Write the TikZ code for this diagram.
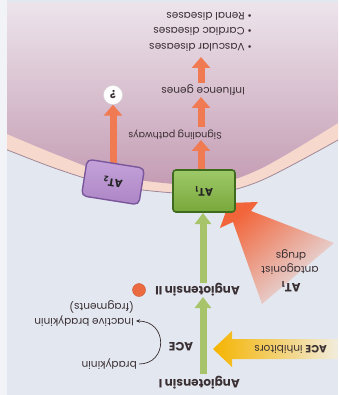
\documentclass[tikz,border=0pt]{standalone}
\usepackage{graphicx}
\usepackage{fontspec}
\setmainfont{Poppins}
\usetikzlibrary{arrows.meta}
\definecolor{bgc}{HTML}{E3E8F0}
\definecolor{stripc}{HTML}{F1F3F7}
\definecolor{rimc}{HTML}{F6D8CC}
\definecolor{rimline}{HTML}{A08898}
\definecolor{cellt}{HTML}{EDE5EC}
\definecolor{cellb}{HTML}{C39AB2}
\definecolor{orc}{HTML}{F07A52}
\definecolor{grc}{HTML}{A8C46B}
\definecolor{txt}{HTML}{3A2F33}
\definecolor{at1f}{HTML}{86BB42}
\definecolor{at1d}{HTML}{3F6B1E}
\definecolor{at2f}{HTML}{B68CD0}
\definecolor{at2d}{HTML}{7A579C}
\definecolor{dotc}{HTML}{EC6A3F}
\definecolor{acey}{HTML}{F5B400}
\definecolor{acel}{HTML}{F1ECDD}
\definecolor{wedge}{HTML}{F2653A}
\newcommand{\rt}[1]{\rotatebox[origin=c]{180}{#1}}
\begin{document}
\begin{tikzpicture}[x=1pt,y=-1pt,
  lbl/.style={inner sep=0pt,text=txt,font=\fontsize{10.5}{12}\selectfont},
  blbl/.style={inner sep=0pt,text=txt,font=\fontsize{12}{14}\selectfont\bfseries},
  orarrow/.style={draw=orc,line width=7pt,-{Triangle[width=18pt,length=11pt]}},
  grarrow/.style={draw=grc,line width=7pt,-{Triangle[width=16pt,length=11pt]}},
  at1box/.style={draw=at1d,line width=1.6pt,rounded corners=3pt,top color=at1f!80!white,bottom color=at1f!90!black,minimum width=62pt,minimum height=42pt,font=\fontsize{11}{13}\selectfont\bfseries,text=black!85},
  at2box/.style={draw=at2d,line width=1.4pt,rounded corners=5pt,top color=at2f!80!white,bottom color=at2f!95!black,minimum width=58pt,minimum height=37pt,font=\fontsize{11}{13}\selectfont\bfseries,text=black!85},
  qnode/.style={circle,fill=white,draw=black!15,minimum size=19pt,inner sep=0pt,font=\fontsize{11}{13}\selectfont\bfseries,text=txt},
  ]
\useasboundingbox (0,0) rectangle (338,395);
% background
\fill[bgc] (0,0) rectangle (338,395);
\fill[stripc] (0,0) rectangle (7,395);
% cell
\begin{scope}
  \clip (7,3) rectangle (338,395);
  \fill[rimc] plot[smooth] coordinates {(0,147) (60,170) (120,187) (205,194) (260,181) (338,140)} -- (338,0) -- (0,0) -- cycle;
  \begin{scope}
    \clip plot[smooth] coordinates {(0,131) (60,156) (120,177) (205,185) (260,169) (338,123)} -- (338,0) -- (0,0) -- cycle;
    \shade[top color=cellt,bottom color=cellb] (0,0) rectangle (338,190);
  \end{scope}
  \draw[rimline,line width=0.8pt] plot[smooth] coordinates {(0,147) (60,170) (120,187) (205,194) (260,181) (338,140)};
\end{scope}
% AT1 antagonist wedge
\shade[top color=wedge,middle color=wedge!75!bgc,bottom color=bgc,shading angle=41]
  (229,203) -- (258,202) -- (251,211) -- (334,243) -- (262,304) -- (233,222) -- (220,228) -- cycle;
% ACE inhibitors arrow
\shade[left color=acey,middle color=acey!70!acel,right color=acel]
  (213,349) -- (232,331) -- (232,339) -- (338,339) -- (338,359) -- (232,359) -- (232,367) -- cycle;
% coordinates for arrows
\coordinate (o1s) at (201,171);
\coordinate (o1e) at (201,140);
\coordinate (o2s) at (201,127);
\coordinate (o2e) at (201,97);
\coordinate (o3s) at (201,83);
\coordinate (o3e) at (201,57);
\coordinate (a2s) at (113,166);
\coordinate (g1s) at (203,374);
\coordinate (g1e) at (203,297);
\coordinate (g2s) at (203,283);
% nodes
\node[qnode] (q) at (113,95) {\rt{?}};
\node[lbl,anchor=east,font=\fontsize{9.5}{11}\selectfont] (sig) at (222,135) {\rt{Signaling pathways}};
\node[lbl,anchor=east] (gen) at (245,90) {\rt{Influence genes}};
\node[lbl,anchor=east] (d1) at (252,47) {\rt{• Vascular diseases}};
\node[lbl,anchor=east] (d2) at (252,31) {\rt{• Cardiac diseases}};
\node[lbl,anchor=east] (d3) at (252,16) {\rt{• Renal diseases}};
\node[blbl,anchor=east] (ang2) at (240,290) {\rt{Angiotensin II}};
\node[circle,fill=dotc,draw=dotc!85!black,minimum size=13pt,inner sep=0pt] (dot) at (139,290) {};
\node[blbl,anchor=east] (ang1) at (240,383) {\rt{Angiotensin I}};
\node[blbl] (ace) at (181,347) {\rt{ACE}};
\node[lbl,anchor=east] (brad) at (137,364) {\rt{bradykinin}};
\node[lbl,anchor=east] (inact) at (134,321) {\rt{Inactive bradykinin}};
\node[lbl,anchor=east] (frag) at (134,307) {\rt{(fragments)}};
\node[lbl,anchor=east] (acei) at (327,349) {\rt{\textbf{ACE} inhibitors}};
\node[blbl] (at1t) at (291,287) {\rt{AT\textsubscript{1}}};
\node[lbl] (antag) at (290,269) {\rt{antagonist}};
\node[lbl] (drugs) at (291,255) {\rt{drugs}};
% arrows
\draw[orarrow] (o1s) -- (o1e);
\draw[orarrow] (o2s) -- (o2e);
\draw[orarrow] (o3s) -- (o3e);
\draw[orarrow] (a2s) -- (q.south);
\draw[grarrow] (g1s) -- (g1e);
\draw[grarrow] (g2s) -- (203,213);
\draw[txt,line width=0.7pt,-{Stealth[length=4pt,width=3.5pt]}] ([xshift=2pt]brad.east) .. controls (168,364) and (168,321) .. ([xshift=2pt]inact.east);
% receptors
\node[at1box] (at1) at (204,191) {\rt{AT\textsubscript{1}}};
\node[at2box,rotate=-9] (at2) at (113,182) {\rt{AT\textsubscript{2}}};
\end{tikzpicture}
\end{document}
